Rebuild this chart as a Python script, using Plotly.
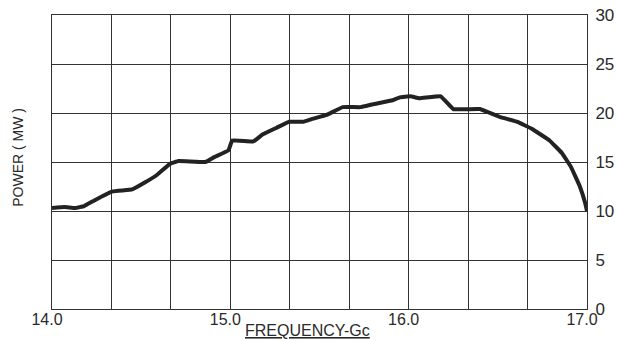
import plotly.graph_objects as go

freq_gc = [14.00, 14.07, 14.13, 14.18, 14.24, 14.34, 14.45, 14.52, 14.59, 14.66,
           14.71, 14.86, 14.91, 14.99, 15.01, 15.13, 15.18, 15.26, 15.33, 15.41,
           15.46, 15.54, 15.63, 15.73, 15.80, 15.91, 15.95, 16.01, 16.06, 16.18,
           16.25, 16.40, 16.51, 16.61, 16.69, 16.79, 16.86, 16.91, 16.96, 16.99, 17.00]
power_mw = [10.3, 10.4, 10.3, 10.5, 11.1, 12.0, 12.2, 12.9, 13.7, 14.8,
            15.1, 15.0, 15.5, 16.2, 17.2, 17.1, 17.8, 18.5, 19.1, 19.1,
            19.4, 19.8, 20.6, 20.6, 20.9, 21.3, 21.6, 21.7, 21.5, 21.7,
            20.4, 20.4, 19.6, 19.1, 18.4, 17.2, 15.9, 14.5, 12.5, 10.8, 10.0]

x_ticks = [14.0, 15.0, 16.0, 17.0]
x_tick_labels = ["14.0", "15.0", "16.0", "17.0"]
y_ticks = [0, 5, 10, 15, 20, 25, 30]

ink = "#2a2a2a"
font_family = "Liberation Sans, Arial, sans-serif"

fig = go.Figure()
fig.add_trace(go.Scatter(
    x=freq_gc, y=power_mw, mode="lines",
    line=dict(color="#222222", width=4, shape="spline", smoothing=0.2),
    showlegend=False, hoverinfo="skip",
))

fig.update_layout(
    width=617, height=341, autosize=False,
    margin=dict(l=52, r=30, t=15, b=32, autoexpand=False),
    paper_bgcolor="white", plot_bgcolor="white",
    font=dict(family=font_family, color=ink),
    xaxis=dict(
        range=[14.0, 17.0], tickvals=x_ticks, ticktext=x_tick_labels,
        showgrid=True, gridcolor="#333333", gridwidth=1,
        minor=dict(tick0=14.0, dtick=1/3, showgrid=True, gridcolor="#333333", gridwidth=1),
        showline=True, linecolor="#333333", linewidth=1, mirror=True,
        ticks="", tickfont=dict(size=16, color=ink), zeroline=False,
        ticklabelstandoff=-4, ticklabelshift=-5, automargin=False,
        ticklabeloverflow="allow",
    ),
    yaxis=dict(
        range=[0, 30], tickvals=y_ticks, side="right",
        showgrid=True, gridcolor="#333333", gridwidth=1,
        showline=True, linecolor="#333333", linewidth=1, mirror=True,
        ticks="", tickfont=dict(size=17, color=ink), zeroline=False,
        ticklabelstandoff=4, automargin=False,
        ticklabeloverflow="allow",
    ),
)

fig.add_annotation(
    text="POWER ( MW )", xref="paper", yref="paper", x=-0.064, y=0.517,
    textangle=-90, showarrow=False, font=dict(size=14, color=ink),
    xanchor="center", yanchor="middle",
)
fig.add_annotation(
    text="<u>FREQUENCY-Gc</u>", xref="paper", yref="paper", x=0.477, y=-0.038,
    showarrow=False, font=dict(size=16, color=ink),
    xanchor="center", yanchor="top",
)

fig.write_html(
    "out.html",
    config={"displayModeBar": False},
    post_script="document.body.style.margin='0';document.body.style.overflow='hidden';",
)
